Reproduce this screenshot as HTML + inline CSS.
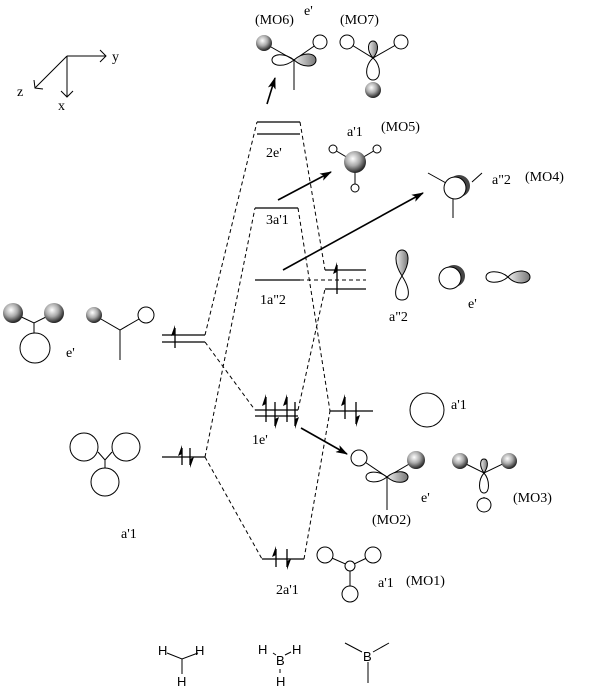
<!DOCTYPE html>
<html><head><meta charset="utf-8"><style>
html,body{margin:0;padding:0;background:#fff;}
svg{display:block;}
text{font-family:"Liberation Serif",serif;font-size:14px;fill:#000;}
.s{font-family:"Liberation Sans",sans-serif;font-size:13px;}
</style></head><body>
<svg width="603" height="690" viewBox="0 0 603 690" xmlns="http://www.w3.org/2000/svg">
<defs>
<radialGradient id="g" cx="0.4" cy="0.35" r="0.65"><stop offset="0" stop-color="#fff"/><stop offset="0.5" stop-color="#aaa"/><stop offset="1" stop-color="#222"/></radialGradient>
<linearGradient id="gl" x1="0" y1="0" x2="1" y2="0"><stop offset="0" stop-color="#eee"/><stop offset="1" stop-color="#777"/></linearGradient>
<marker id="ah" markerWidth="12" markerHeight="8" refX="11" refY="4" orient="auto" markerUnits="userSpaceOnUse"><path d="M0,0 L12,4 L0,8 L3,4 z" fill="#000"/></marker>
</defs>
<g stroke="#000" fill="none" stroke-width="1">
<path d="M67,56 H106 M100,50 L106,56 L100,62 M67,56 V97 M61,91 L67,97 L73,91 M67,56 L35,88 M34,80 L35,88 L43,89"/>
<path stroke-width="1.3" d="M257,122 H300 M257,134 H300 M255,208 H298 M255,280 H300 M255,410 H298 M255,416 H298 M262,559 H304 M162,335 H205 M162,342 H205 M162,457 H205 M325,270 H366 M325,289 H366 M330,411 H373"/>
<path stroke-dasharray="4,3" d="M300,280 H366"/>
<g stroke-dasharray="4,3">
<path d="M205,335 L257,122 M205,342 L255,410 M205,457 L255,208 M205,457 L262,559"/>
<path d="M300,122 L325,270 M298,410 L325,289 M298,208 L330,411 M304,559 L330,411"/>
</g>
<g stroke-width="1.3">
<path d="M175,328 V348 M182,448 V465 M190,448 V465 M266,397 V422 M275,402 V426 M287,397 V422 M295,402 V426 M276,549 V567 M287,549 V567 M337,265 V294 M345,397 V419 M356,402 V424"/>
</g>
<g fill="#000" stroke="none">
<path d="M175,325 l-4,11 l4,-2 z M182,445 l-4,11 l4,-2 z M190,468 l4,-11 l-4,2 z M266,394 l-4,12 l4,-2 z M275,429 l4,-12 l-4,2 z M287,394 l-4,12 l4,-2 z M295,429 l4,-12 l-4,2 z M276,546 l-4,11 l4,-2 z M287,570 l4,-11 l-4,2 z M337,262 l-4,12 l4,-2 z M345,394 l-4,12 l4,-2 z M356,427 l4,-12 l-4,2 z"/>
</g>
<g stroke-width="1.6" marker-end="url(#ah)">
<line x1="267" y1="104" x2="275" y2="78"/>
<line x1="278" y1="200" x2="331" y2="172"/>
<line x1="283" y1="270" x2="423" y2="193"/>
<line x1="301" y1="428" x2="347" y2="454"/>
</g>
<path d="M264,43 L294,60 L320,42 M294,60 V90"/>
<path d="M294,60 C284,52 272,54 272,60 C272,66 284,68 294,60 z"/>
<path d="M294,60 C304,51 316,53 316,60 C316,67 304,69 294,60 z" fill="url(#gl)"/>
<circle cx="264" cy="43" r="8" fill="url(#g)" stroke="none"/>
<circle cx="320" cy="42" r="7" fill="#fff"/>
<path d="M347,42 L373,58 L401,42 M373,82 V90"/>
<circle cx="347" cy="42" r="7" fill="#fff"/><circle cx="401" cy="42" r="7" fill="#fff"/>
<path d="M373,58 C366,50 368,41 373,41 C378,41 380,50 373,58 z" fill="url(#gl)"/>
<path d="M373,58 C364,66 365,80 373,80 C381,80 382,66 373,58 z"/>
<circle cx="373" cy="90" r="8" fill="url(#g)" stroke="none"/>
<path d="M333,149 L355,162 L377,149 M355,162 V188"/>
<circle cx="333" cy="149" r="4" fill="#fff"/><circle cx="377" cy="149" r="4" fill="#fff"/><circle cx="355" cy="188" r="4" fill="#fff"/>
<circle cx="355" cy="162" r="11" fill="url(#g)" stroke="none"/>
<path d="M428,173 L446,183 M472,182 L482,173 M453,199 V218"/>
<circle cx="459" cy="186" r="11" fill="#444" stroke="none"/>
<circle cx="455" cy="188" r="11" fill="#fff"/>
<path d="M402,276 C393,262 395,250 402,250 C409,250 411,262 402,276 z" fill="url(#gl)"/>
<path d="M402,276 C393,290 394,300 402,300 C410,300 411,290 402,276 z"/>
<circle cx="454" cy="276" r="11" fill="#444" stroke="none"/>
<circle cx="450" cy="278" r="11" fill="#fff"/>
<path d="M508,277 C500,270 486,270 486,277 C486,284 500,284 508,277 z"/>
<path d="M508,277 C516,268 530,270 530,277 C530,284 516,286 508,277 z" fill="url(#gl)"/>
<circle cx="427" cy="410" r="17"/>
<path d="M359,458 L387,477 L416,460 M387,477 V510"/>
<circle cx="359" cy="458" r="8" fill="#fff"/>
<path d="M387,477 C378,470 366,471 366,477 C366,483 378,484 387,477 z"/>
<path d="M387,477 C396,469 408,471 408,477 C408,483 396,485 387,477 z" fill="url(#gl)"/>
<circle cx="416" cy="460" r="9" fill="url(#g)" stroke="none"/>
<path d="M460,461 L484,473 L509,461 M484,497 V505"/>
<path d="M484,473 C479,466 480,459 484,459 C488,459 489,466 484,473 z" fill="url(#gl)"/>
<path d="M484,473 C478,480 478,493 484,493 C490,493 490,480 484,473 z"/>
<circle cx="484" cy="505" r="7" fill="#fff"/>
<circle cx="460" cy="461" r="8" fill="url(#g)" stroke="none"/>
<circle cx="509" cy="461" r="8" fill="url(#g)" stroke="none"/>
<path d="M325,555 L350,566 L373,555 M350,566 V594"/>
<circle cx="325" cy="555" r="8" fill="#fff"/><circle cx="373" cy="555" r="8" fill="#fff"/>
<circle cx="350" cy="566" r="5" fill="#fff"/><circle cx="350" cy="594" r="8" fill="#fff"/>
<path d="M13,313 L34,323 L54,313 M34,323 V333"/>
<circle cx="35" cy="348" r="15"/>
<circle cx="13" cy="313" r="10" fill="url(#g)" stroke="none"/>
<circle cx="54" cy="313" r="10" fill="url(#g)" stroke="none"/>
<path d="M94,315 L120,330 L146,315 M120,330 V360"/>
<circle cx="94" cy="315" r="8" fill="url(#g)" stroke="none"/>
<circle cx="146" cy="315" r="8" fill="#fff"/>
<path d="M98,452 L105,460 L112,452 M105,460 V468"/>
<circle cx="84" cy="447" r="14"/><circle cx="126" cy="447" r="14"/><circle cx="105" cy="482" r="14"/>
<path d="M167,653 L182,659 L198,653 M182,659 V674"/>
<path d="M273,653 L276,655 M285,655 L291,652 M280,669 V673"/>
<path d="M345,643 L362,652 M373,652 L389,643 M368,662 V683"/>
</g>
<g>
<text x="112" y="61">y</text><text x="17" y="96">z</text><text x="58" y="110">x</text>
<text x="255" y="24">(MO6)</text><text x="304" y="15">e'</text><text x="340" y="24">(MO7)</text>
<text x="266" y="157">2e'</text><text x="266" y="224">3a'1</text><text x="260" y="304">1a"2</text>
<text x="252" y="444">1e'</text><text x="276" y="594">2a'1</text>
<text x="347" y="136">a'1</text><text x="381" y="131">(MO5)</text>
<text x="492" y="184">a"2</text><text x="525" y="181">(MO4)</text>
<text x="389" y="321">a"2</text><text x="468" y="308">e'</text>
<text x="451" y="409">a'1</text>
<text x="421" y="502">e'</text><text x="372" y="524">(MO2)</text><text x="513" y="502">(MO3)</text>
<text x="378" y="587">a'1</text><text x="406" y="585">(MO1)</text>
<text x="66" y="357">e'</text><text x="121" y="538">a'1</text>
<text class="s" x="158" y="655">H</text><text class="s" x="195" y="655">H</text><text class="s" x="177" y="686">H</text>
<text class="s" x="258" y="654">H</text><text class="s" x="276" y="665">B</text><text class="s" x="292" y="654">H</text><text class="s" x="276" y="686">H</text>
<text class="s" x="363" y="661">B</text>
</g>
</svg>
</body></html>
